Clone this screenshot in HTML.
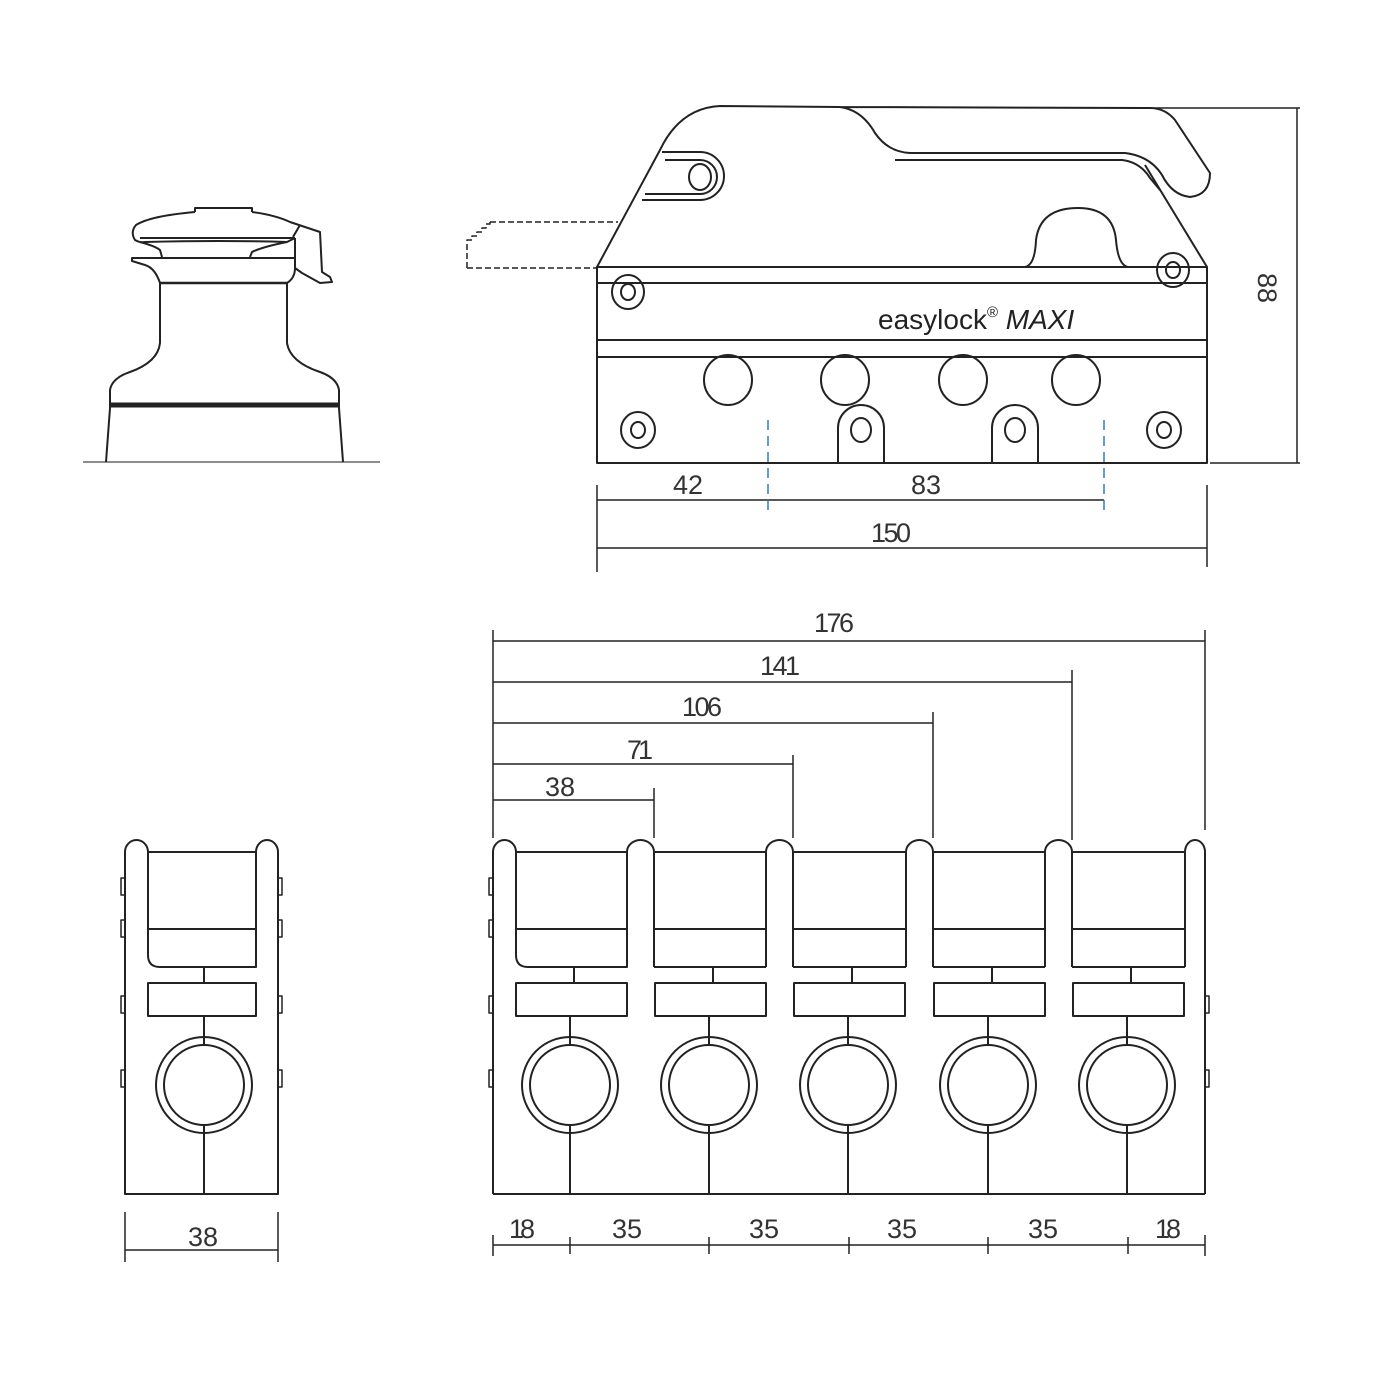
<!DOCTYPE html>
<html><head><meta charset="utf-8"><style>html,body{margin:0;padding:0;background:#fff}svg{display:block}</style></head>
<body>
<svg width="1390" height="1390" viewBox="0 0 1390 1390" xmlns="http://www.w3.org/2000/svg">
<g fill="none" stroke="#222" stroke-width="2" stroke-linejoin="round">
<!-- WINCH -->
<line x1="83" y1="462" x2="380" y2="462" stroke="#666" stroke-width="1.5"/>
<path d="M106,462 L110,408 L110,390 Q112,378 130,372 Q158,362 160,343 L160,283"/>
<path d="M343,462 L339,408 L339,390 Q337,378 320,372 Q290,362 287,343 L287,283"/>
<line x1="110" y1="405" x2="339" y2="405" stroke-width="5"/>
<line x1="160" y1="283" x2="287" y2="283" stroke-width="2.5"/>
<path d="M160,283 Q155,268 145,265 L132,261 L132,258 L295,258"/>
<path d="M287,283 Q295,278 295,268 L295,238"/>
<path d="M140,238 L295,238"/>
<path d="M140,242 Q155,246 160,250 L162,257 M287,242 Q262,247 252,252 L250,257"/>
<path d="M195,212 L195,208 L252,208 L252,212"/>
<path d="M252,212 Q275,215 290,222 L320,232 L322,272 L330,277 L332,282 L320,283 L302,273 L295,268"/>
<path d="M195,212 Q150,216 136,225 Q130,232 135,240 Q140,243 145,242 Q220,240 287,242 L295,238"/>
<path d="M293,237 L300,225"/>
<!-- CLUTCH SIDE -->
<rect x="597" y="267" width="610" height="196"/>
<line x1="597" y1="283" x2="1207" y2="283"/>
<line x1="597" y1="340" x2="1207" y2="340"/>
<line x1="597" y1="357" x2="1207" y2="357"/>
<path d="M597,267 L660,150 Q680,108 720,106 L840,107 Q862,110 875,133 Q888,152 910,153 L1125,153 Q1150,156 1162,175 Q1172,195 1190,197 Q1210,195 1210,173 L1175,120 Q1165,108 1150,108 L840,107"/>
<path d="M895,160 L1122,160 Q1140,162 1150,178 L1160,190"/>
<path d="M1145,165 L1207,267"/>
<path d="M1025,267 Q1035,265 1036,240 Q1040,208 1078,208 Q1113,208 1116,240 Q1118,265 1128,267 L1160,267"/>
<path d="M662,152 L700,152 A24,24 0 0 1 700,200 L642,200"/>
<path d="M665,160 L700,160 A17,17 0 0 1 700,194 L645,194"/>
<ellipse cx="700" cy="177" rx="11" ry="13"/>
<path d="M467,268 L597,268 M490,222 L618,222 M467,268 L467,240 L472,240 L472,236 L477,236 L477,232 L482,232 L482,228 L486,228 L486,224 L490,224 L490,222" stroke-dasharray="6,3" stroke-width="1.5"/>
<g>
<ellipse cx="628" cy="292" rx="16" ry="17"/><ellipse cx="628" cy="292" rx="7" ry="8"/>
<ellipse cx="1173" cy="270" rx="16" ry="17"/><ellipse cx="1173" cy="270" rx="7" ry="8"/>
<ellipse cx="638" cy="430" rx="17" ry="18"/><ellipse cx="638" cy="430" rx="7" ry="8"/>
<ellipse cx="1164" cy="430" rx="17" ry="18"/><ellipse cx="1164" cy="430" rx="7" ry="8"/>
<path d="M838,463 L838,428 A23,23 0 0 1 884,428 L884,463"/><ellipse cx="861" cy="430" rx="10" ry="12"/>
<path d="M992,463 L992,428 A23,23 0 0 1 1038,428 L1038,463"/><ellipse cx="1015" cy="430" rx="10" ry="12"/>
<ellipse cx="728" cy="380" rx="24" ry="25"/>
<ellipse cx="845" cy="380" rx="24" ry="25"/>
<ellipse cx="963" cy="380" rx="24" ry="25"/>
<ellipse cx="1076" cy="380" rx="24" ry="25"/>
</g>
<g stroke-width="1.5">
<line x1="1150" y1="108" x2="1300" y2="108"/>
<line x1="1210" y1="463" x2="1300" y2="463"/>
<line x1="1297" y1="108" x2="1297" y2="463"/>
<line x1="597" y1="485" x2="597" y2="572"/>
<line x1="1207" y1="485" x2="1207" y2="567"/>
<line x1="597" y1="500" x2="1104" y2="500"/>
<line x1="597" y1="548" x2="1207" y2="548"/>
<line x1="768" y1="420" x2="768" y2="515" stroke="#3a7ab0" stroke-dasharray="10,6"/>
<line x1="1104" y1="420" x2="1104" y2="515" stroke="#3a7ab0" stroke-dasharray="10,6"/>
</g>
<!-- FRONT VIEW LEFT -->
<path d="M125,1194 L125,852 A11.5,12 0 0 1 148,852 L148,955 Q148,967 160,967 L256,967 L256,852 A11,12 0 0 1 278,852 L278,1194 Z"/>
<line x1="148" y1="852" x2="256" y2="852"/>
<line x1="148" y1="929" x2="256" y2="929"/>
<rect x="148" y="983" width="108" height="33"/>
<line x1="204" y1="967" x2="204" y2="983"/>
<circle cx="204" cy="1085" r="48" fill="#fff"/><circle cx="204" cy="1085" r="40"/>
<line x1="204" y1="1016" x2="204" y2="1045"/><line x1="204" y1="1125" x2="204" y2="1194"/>
<g stroke-width="1.5">
<rect x="121" y="878" width="4" height="17"/><rect x="121" y="920" width="4" height="17"/><rect x="121" y="996" width="4" height="17"/><rect x="121" y="1070" width="4" height="17"/>
<rect x="278" y="878" width="4" height="17"/><rect x="278" y="920" width="4" height="17"/><rect x="278" y="996" width="4" height="17"/><rect x="278" y="1070" width="4" height="17"/>
<line x1="125" y1="1212" x2="125" y2="1262"/><line x1="278" y1="1212" x2="278" y2="1262"/>
<line x1="125" y1="1250" x2="278" y2="1250"/>
</g>
<!-- FRONT VIEW 5 -->
<path d="M493,1194 L493,852 A11.5,12 0 0 1 516,852 L516,955 Q516,967 528,967 L627,967 L627,852"/>
<line x1="493" y1="1194" x2="1205" y2="1194"/>
<path d="M1185,967 L1185,852 A10,12 0 0 1 1205,852 L1205,1194"/>
<path d="M627,852 A13.5,12 0 0 1 654,852 L654,967"/>
<path d="M766,967 L766,852 A13.5,12 0 0 1 793,852 L793,967"/>
<path d="M906,967 L906,852 A13.5,12 0 0 1 933,852 L933,967"/>
<path d="M1045,967 L1045,852 A13.5,12 0 0 1 1072,852 L1072,967"/>
<g id="m">
<line x1="516" y1="852" x2="627" y2="852"/>
<line x1="516" y1="929" x2="627" y2="929"/>
<rect x="516" y="983" width="111" height="33"/>
<line x1="574" y1="967" x2="574" y2="983"/>
<line x1="570" y1="1016" x2="570" y2="1045"/>
<line x1="570" y1="1125" x2="570" y2="1194"/>
<circle cx="570" cy="1085" r="48"/><circle cx="570" cy="1085" r="40"/>
</g>
<line x1="654" y1="967" x2="766" y2="967"/><line x1="793" y1="967" x2="906" y2="967"/><line x1="933" y1="967" x2="1045" y2="967"/><line x1="1072" y1="967" x2="1185" y2="967"/>
<use href="#m" x="139"/><use href="#m" x="278"/><use href="#m" x="418"/><use href="#m" x="557"/>
<g stroke-width="1.5">
<rect x="489" y="878" width="4" height="17"/><rect x="489" y="920" width="4" height="17"/><rect x="489" y="996" width="4" height="17"/><rect x="489" y="1070" width="4" height="17"/>
<rect x="1205" y="996" width="4" height="17"/><rect x="1205" y="1070" width="4" height="17"/>
<line x1="493" y1="630" x2="493" y2="838"/>
<line x1="493" y1="641" x2="1205" y2="641"/><line x1="1205" y1="630" x2="1205" y2="830"/>
<line x1="493" y1="682" x2="1072" y2="682"/><line x1="1072" y1="670" x2="1072" y2="840"/>
<line x1="493" y1="723" x2="933" y2="723"/><line x1="933" y1="712" x2="933" y2="838"/>
<line x1="493" y1="764" x2="793" y2="764"/><line x1="793" y1="755" x2="793" y2="838"/>
<line x1="493" y1="800" x2="654" y2="800"/><line x1="654" y1="788" x2="654" y2="838"/>
<line x1="493" y1="1245" x2="1205" y2="1245"/>
<line x1="493" y1="1235" x2="493" y2="1256"/><line x1="570" y1="1237" x2="570" y2="1254"/><line x1="709" y1="1237" x2="709" y2="1254"/><line x1="849" y1="1237" x2="849" y2="1254"/><line x1="988" y1="1237" x2="988" y2="1254"/><line x1="1128" y1="1237" x2="1128" y2="1254"/><line x1="1205" y1="1235" x2="1205" y2="1256"/>
</g>
</g>
<g font-family="'Liberation Sans', sans-serif" font-size="27" fill="#333" text-anchor="middle" lengthAdjust="spacingAndGlyphs">
<text x="688" y="494" textLength="30">42</text>
<text x="926" y="494" textLength="30">83</text>
<text x="891" y="542" textLength="40">150</text>
<text x="834" y="632" textLength="40">176</text>
<text x="780" y="675" textLength="40">141</text>
<text x="702" y="716" textLength="40">106</text>
<text x="640" y="759" textLength="26">71</text>
<text x="560" y="796" textLength="30">38</text>
<text x="203" y="1246" textLength="30">38</text>
<text x="522" y="1238" textLength="26">18</text>
<text x="627" y="1238" textLength="30">35</text>
<text x="764" y="1238" textLength="30">35</text>
<text x="902" y="1238" textLength="30">35</text>
<text x="1043" y="1238" textLength="30">35</text>
<text x="1168" y="1238" textLength="26">18</text>
<text transform="translate(1258,288) rotate(90)" textLength="30">88</text>
</g>
<text x="878" y="329" font-family="'Liberation Sans', sans-serif" font-size="28" fill="#222">easylock<tspan font-size="15" dy="-12">®</tspan><tspan dy="12" font-style="italic"> MAXI</tspan></text>
</svg>
</body></html>
